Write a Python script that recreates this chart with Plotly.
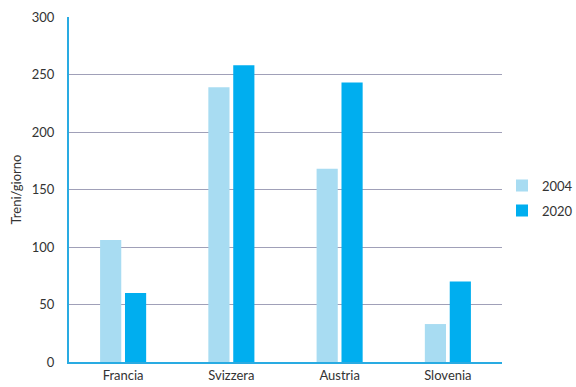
import plotly.graph_objects as go

categories = ["Francia", "Svizzera", "Austria", "Slovenia"]
values_2004 = [106, 239, 168, 33]
values_2020 = [60, 258, 243, 70]
series_names = ["2004", "2020"]
y_ticks = [0, 50, 100, 150, 200, 250, 300]

font_family = "Lato, 'DejaVu Sans', sans-serif"

fig = go.Figure()
fig.add_trace(go.Bar(x=categories, y=values_2004, name=series_names[0],
                     legendgroup="a",
                     marker=dict(color="#a8dcf2", line=dict(width=0))))
fig.add_trace(go.Bar(x=categories, y=values_2020, name=series_names[1],
                     legendgroup="b",
                     marker=dict(color="#00aeef", line=dict(width=0))))

fig.update_layout(
    width=576, height=387,
    margin=dict(l=69, r=74, t=17, b=25, autoexpand=False),
    paper_bgcolor="white", plot_bgcolor="white",
    barmode="group", bargap=0.54, bargroupgap=0.15,
    font=dict(family=font_family, size=13, color="#333333"),
    showlegend=True,
    legend=dict(x=1.0, y=0.475, xanchor="left", yanchor="middle",
                font=dict(size=13, color="#333333"), itemwidth=30,
                tracegroupgap=5),
    xaxis=dict(showgrid=False, showline=True, linecolor="#29abe2", linewidth=2,
               ticks="", tickfont=dict(size=13), fixedrange=True,
               automargin=False),
    yaxis=dict(range=[0, 300], tickvals=y_ticks, showgrid=True,
               gridcolor="#a0a0b8", gridwidth=1, showline=True,
               linecolor="#29abe2", linewidth=2, ticks="", zeroline=False,
               tickfont=dict(size=13), ticklabelstandoff=10, automargin=False,
               title=dict(text="Treni/giorno", font=dict(size=13), standoff=7)),
)

fig.write_html(
    "out.html",
    config={"displayModeBar": False},
    post_script="document.body.style.margin='0';document.body.style.overflow='hidden';",
)
